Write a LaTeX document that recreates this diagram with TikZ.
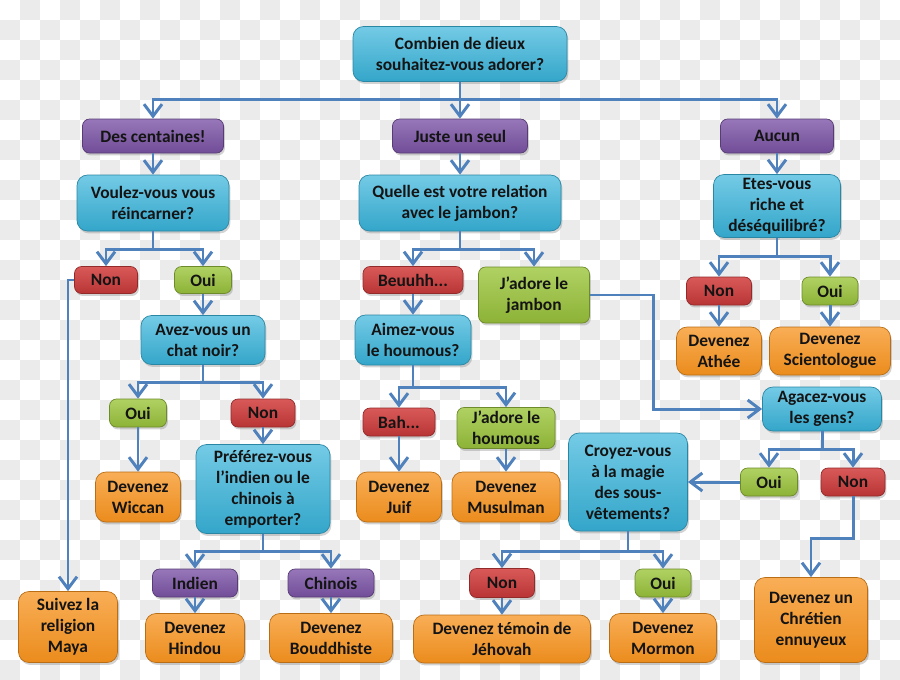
\documentclass[tikz,border=0pt]{standalone}
\usepackage{fontspec}
\setmainfont{Carlito}
\usetikzlibrary{arrows.meta,shadows}

\definecolor{askblue}{HTML}{38B4DB}
\definecolor{pickpurple}{HTML}{7D55A8}
\definecolor{nored}{HTML}{D23C3C}
\definecolor{yesgreen}{HTML}{9CC63C}
\definecolor{endorange}{HTML}{F7931E}
\definecolor{wireblue}{HTML}{4F81BD}
\definecolor{checker}{HTML}{EBEBEB}

\begin{document}
\begin{tikzpicture}[x=0.02cm,y=-0.02cm,
  >={Straight Barb[length=2.4mm,width=3.6mm]},
  sz/.style 2 args={minimum width=#1*0.02cm,minimum height=#2*0.02cm},
  base/.style={rounded corners=4pt,align=center,inner sep=1pt,
    font=\fontsize{9.9}{11.9}\selectfont\bfseries,text=black!92,
    drop shadow={shadow xshift=0.8pt,shadow yshift=-1.4pt,opacity=.35}},
  question/.style={base,rounded corners=6pt,draw=askblue!75!black,
    top color=askblue!70!white,bottom color=askblue!92!black},
  pick/.style={base,draw=pickpurple!70!black,
    top color=pickpurple!80!white,bottom color=pickpurple!90!black},
  nope/.style={base,draw=nored!70!black,
    top color=nored!85!white,bottom color=nored!88!black},
  yep/.style={base,draw=yesgreen!70!black,
    top color=yesgreen!80!white,bottom color=yesgreen!90!black},
  result/.style={base,rounded corners=6pt,draw=endorange!75!black,
    top color=endorange!75!white,bottom color=endorange!95!black},
  wire/.style={draw=wireblue,line width=1.7pt},
  link/.style={wire,->}]

  \useasboundingbox (0,0) rectangle (900,680);
  \foreach \i in {0,...,44}{
    \foreach \j in {0,...,33}{
      \pgfmathtruncatemacro\k{mod(\i+\j,2)}
      \ifnum\k=1 \fill[checker] (\i*20,\j*20) rectangle ++(20,20); \fi
    }
  }

  % first question
  \node[question,sz={214}{55}] (combien) at (460,54) {Combien de dieux\\souhaitez-vous adorer?};
  \node[pick,sz={141}{34}] (centaines) at (153,136) {Des centaines!};
  \node[pick,sz={135}{34}] (seul) at (460,136) {Juste un seul};
  \node[pick,sz={113}{34}] (aucun) at (777,136) {Aucun};

  % des centaines
  \node[question,sz={152}{56}] (reincarner) at (153,203) {Voulez-vous vous\\réincarner?};
  \node[nope,sz={63}{27}] (nonR) at (106,280) {Non};
  \node[yep,sz={57}{27}] (ouiR) at (203,280) {Oui};
  \node[result,sz={99}{71}] (maya) at (68,627) {Suivez la\\religion\\Maya};
  \node[question,sz={124}{49}] (chat) at (203,340) {Avez-vous un\\chat noir?};
  \node[yep,sz={57}{28}] (ouiC) at (138,413) {Oui};
  \node[nope,sz={64}{28}] (nonC) at (263,413) {Non};
  \node[result,sz={85}{50}] (wiccan) at (138,497) {Devenez\\Wiccan};
  \node[question,sz={134}{89}] (prefere) at (263,489) {Préférez-vous\\l’indien ou le\\chinois à\\emporter?};
  \node[pick,sz={85}{28}] (indien) at (195,583) {Indien};
  \node[pick,sz={86}{28}] (chinois) at (331,583) {Chinois};
  \node[result,sz={99}{49}] (hindou) at (195,638) {Devenez\\Hindou};
  \node[result,sz={123}{49}] (bouddhiste) at (331,638) {Devenez\\Bouddhiste};

  % juste un seul
  \node[question,sz={202}{56}] (jambon) at (460,203) {Quelle est votre relation\\avec le jambon?};
  \node[nope,sz={100}{27}] (beuuhh) at (413,280) {Beuuhh...};
  \node[yep,sz={111}{56}] (jadoreJ) at (534,295) {J’adore le\\jambon};
  \node[question,sz={116}{50}] (houmous) at (413,340) {Aimez-vous\\le houmous?};
  \node[nope,sz={72}{28}] (bah) at (399,422) {Bah...};
  \node[yep,sz={98}{41}] (jadoreH) at (506,428) {J’adore le\\houmous};
  \node[result,sz={85}{50}] (juif) at (399,497) {Devenez\\Juif};
  \node[result,sz={108}{50}] (musulman) at (506,497) {Devenez\\Musulman};
  \node[question,sz={119}{44}] (agacez) at (822,409) {Agacez-vous\\les gens?};
  \node[yep,sz={57}{28}] (ouiA) at (769,482) {Oui};
  \node[nope,sz={64}{28}] (nonA) at (853,482) {Non};
  \node[question,sz={119}{98}] (croyez) at (628,482) {Croyez-vous\\à la magie\\des sous-\\vêtements?};
  \node[result,sz={113}{85}] (chretien) at (811,620) {Devenez un\\Chrétien\\ennuyeux};
  \node[nope,sz={65}{29}] (nonM) at (502,583) {Non};
  \node[yep,sz={56}{28}] (ouiM) at (663,583) {Oui};
  \node[result,sz={177}{48}] (temoin) at (502,639) {Devenez témoin de\\Jéhovah};
  \node[result,sz={107}{49}] (mormon) at (663,638) {Devenez\\Mormon};

  % aucun
  \node[question,sz={127}{63}] (riche) at (777,206) {Etes-vous\\riche et\\déséquilibré?};
  \node[nope,sz={65}{28}] (nonE) at (719,291) {Non};
  \node[yep,sz={56}{28}] (ouiE) at (830,291) {Oui};
  \node[result,sz={85}{48}] (athee) at (719,351) {Devenez\\Athée};
  \node[result,sz={121}{48}] (scientologue) at (830,351) {Devenez\\Scientologue};

  % connectors
  \draw[wire] (combien.south) -- ++(0,18) coordinate (t0);
  \draw[link] (t0) -| (centaines.north);
  \draw[link] (t0) -- (seul.north);
  \draw[link] (t0) -| (aucun.north);
  \draw[link] (centaines) -- (reincarner);
  \draw[link] (seul) -- (jambon);
  \draw[link] (aucun) -- (riche);

  \draw[wire] (reincarner.south) -- ++(0,18) coordinate (t1);
  \draw[link] (t1) -| (nonR.north);
  \draw[link] (t1) -| (ouiR.north);
  \draw[link] (nonR.west) -| (maya.north);
  \draw[link] (ouiR) -- (chat);
  \draw[wire] (chat.south) -- ++(0,18) coordinate (t2);
  \draw[link] (t2) -| (ouiC.north);
  \draw[link] (t2) -| (nonC.north);
  \draw[link] (ouiC) -- (wiccan);
  \draw[link] (nonC) -- (prefere);
  \draw[wire] (prefere.south) -- ++(0,18) coordinate (t3);
  \draw[link] (t3) -| (indien.north);
  \draw[link] (t3) -| (chinois.north);
  \draw[link] (indien) -- (hindou);
  \draw[link] (chinois) -- (bouddhiste);

  \draw[wire] (jambon.south) -- ++(0,18) coordinate (t4);
  \draw[link] (t4) -| (beuuhh.north);
  \draw[link] (t4) -| (jadoreJ.north);
  \draw[link] (beuuhh) -- (houmous);
  \draw[wire] (houmous.south) -- ++(0,22) coordinate (t5);
  \draw[link] (t5) -| (bah.north);
  \draw[link] (t5) -| (jadoreH.north);
  \draw[link] (bah) -- (juif);
  \draw[link] (jadoreH) -- (musulman);
  \draw[link] (jadoreJ.east) -- ++(64,0) |- (agacez.west);
  \draw[wire] (agacez.south) -- ++(0,18) coordinate (t6);
  \draw[link] (t6) -| (ouiA.north);
  \draw[link] (t6) -| (nonA.north);
  \draw[link] (ouiA.west) -- (croyez.east);
  \draw[link] (nonA.south) -- ++(0,42) -| (chretien.north);
  \draw[wire] (croyez.south) -- ++(0,20) coordinate (t7);
  \draw[link] (t7) -| (nonM.north);
  \draw[link] (t7) -| (ouiM.north);
  \draw[link] (nonM) -- (temoin);
  \draw[link] (ouiM) -- (mormon);

  \draw[wire] (riche.south) -- ++(0,19) coordinate (t8);
  \draw[link] (t8) -| (nonE.north);
  \draw[link] (t8) -| (ouiE.north);
  \draw[link] (nonE) -- (athee);
  \draw[link] (ouiE) -- (scientologue);
\end{tikzpicture}
\end{document}
